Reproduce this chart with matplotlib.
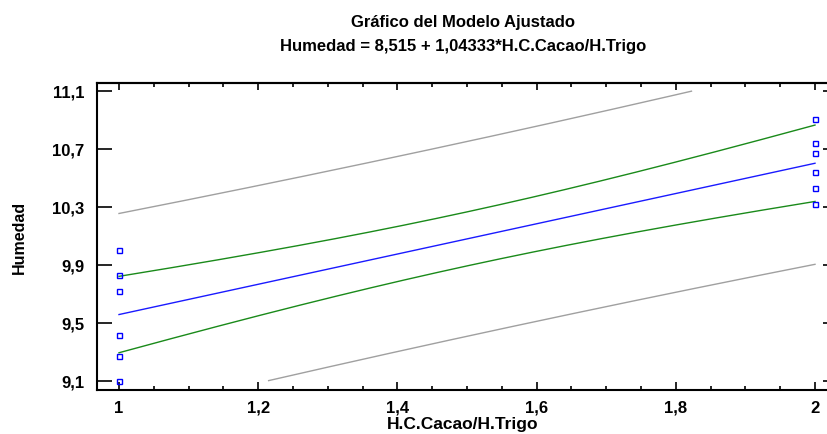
import numpy as np
from matplotlib import pyplot as plt
from matplotlib.ticker import MultipleLocator, FixedLocator, FuncFormatter

plt.rcParams['font.family'] = ['Liberation Sans', 'DejaVu Sans']
plt.rcParams['font.weight'] = 'bold'

# observations (two levels of H.C.Cacao/H.Trigo)
x_obs = [1, 1, 1, 1, 1, 1, 2, 2, 2, 2, 2, 2]
humedad = [10.0, 9.83, 9.72, 9.42, 9.27, 9.10,
           10.91, 10.74, 10.67, 10.54, 10.43, 10.32]

# fitted model from the title
b0 = 8.515
b1 = 1.04333
t_val = 2.228  # t(0.975, 10 gl)

y_ticks = [9.1, 9.5, 9.9, 10.3, 10.7, 11.1]
x_ticks = [1, 1.2, 1.4, 1.6, 1.8, 2]


def comma_fmt(v, pos):
    s = "{:g}".format(round(v, 2))
    return s.replace(".", ",")


# =============================================================================
# regression bands
# =============================================================================
x = np.asarray(x_obs, dtype=float)
y = np.asarray(humedad, dtype=float)
n = len(x)
resid = y - (b0 + b1 * x)
s = np.sqrt(np.sum(resid ** 2) / (n - 2))
sxx = np.sum((x - x.mean()) ** 2)

xg = np.linspace(1, 2, 401)
yfit = b0 + b1 * xg
se_conf = s * np.sqrt(1.0 / n + (xg - x.mean()) ** 2 / sxx)
se_pred = s * np.sqrt(1.0 + 1.0 / n + (xg - x.mean()) ** 2 / sxx)


def clip(v):
    v = v.copy()
    v[(v < 9.1) | (v > 11.1)] = np.nan
    return v


# =============================================================================
# plot
# =============================================================================
W, H = 827, 435
fig = plt.figure(figsize=(W / 100, H / 100), dpi=100)
ax = fig.add_axes([97 / W, (H - 391) / H, (829 - 97) / W, (391 - 84) / H])

ax.plot(xg, clip(yfit + t_val * se_pred), color='#a0a0a0', lw=1.0)
ax.plot(xg, clip(yfit - t_val * se_pred), color='#a0a0a0', lw=1.0)
ax.plot(xg, clip(yfit + t_val * se_conf), color='#1a8a1a', lw=1.0)
ax.plot(xg, clip(yfit - t_val * se_conf), color='#1a8a1a', lw=1.0)
ax.plot(xg, yfit, color='#1a1aff', lw=1.0)
ax.plot(x_obs, humedad, ls='none', marker='s', ms=3.6, mfc='none',
        mec='#0000ff', mew=1.0)

ax.set_xlim(1 - 22 / 696, 2 + 14 / 696)
ax.set_ylim(9.1 - 9 / 145, 11.1 + 8 / 145)

for sp in ax.spines.values():
    sp.set_linewidth(1.5)

ax.xaxis.set_major_locator(FixedLocator(x_ticks))
ax.xaxis.set_minor_locator(MultipleLocator(0.05))
ax.yaxis.set_major_locator(FixedLocator(y_ticks))
ax.xaxis.set_major_formatter(FuncFormatter(comma_fmt))
ax.yaxis.set_major_formatter(FuncFormatter(comma_fmt))
ax.tick_params(axis='x', which='major', direction='in', length=6, width=1.2,
               labelsize=12, pad=7)
ax.tick_params(axis='x', which='minor', direction='in', length=3, width=1.2)
ax.tick_params(axis='y', which='major', direction='in', length=11, width=1.2,
               labelsize=12, pad=9)

# short ticks on top and right
top = ax.secondary_xaxis('top')
top.xaxis.set_major_locator(FixedLocator(x_ticks))
top.xaxis.set_minor_locator(MultipleLocator(0.05))
top.tick_params(which='major', direction='in', length=5, width=1.2, labeltop=False)
top.tick_params(which='minor', direction='in', length=3, width=1.2)
top.spines['top'].set_linewidth(1.5)
right = ax.secondary_yaxis('right')
right.yaxis.set_major_locator(FixedLocator(y_ticks))
right.tick_params(direction='in', length=4, width=1.2, labelright=False)

ax.set_xlabel("H.C.Cacao/H.Trigo", fontsize=12.5, fontweight='bold', labelpad=1)
ax.set_ylabel("Humedad", fontsize=11.5, fontweight='bold', labelpad=18)

fig.text(463 / W, 1 - 23 / H, "Gráfico del Modelo Ajustado", ha='center',
         va='center', fontsize=12, fontweight='bold')
fig.text(463 / W, 1 - 47 / H, "Humedad = 8,515 + 1,04333*H.C.Cacao/H.Trigo",
         ha='center', va='center', fontsize=12, fontweight='bold')

fig.savefig("out.png", dpi=100)
